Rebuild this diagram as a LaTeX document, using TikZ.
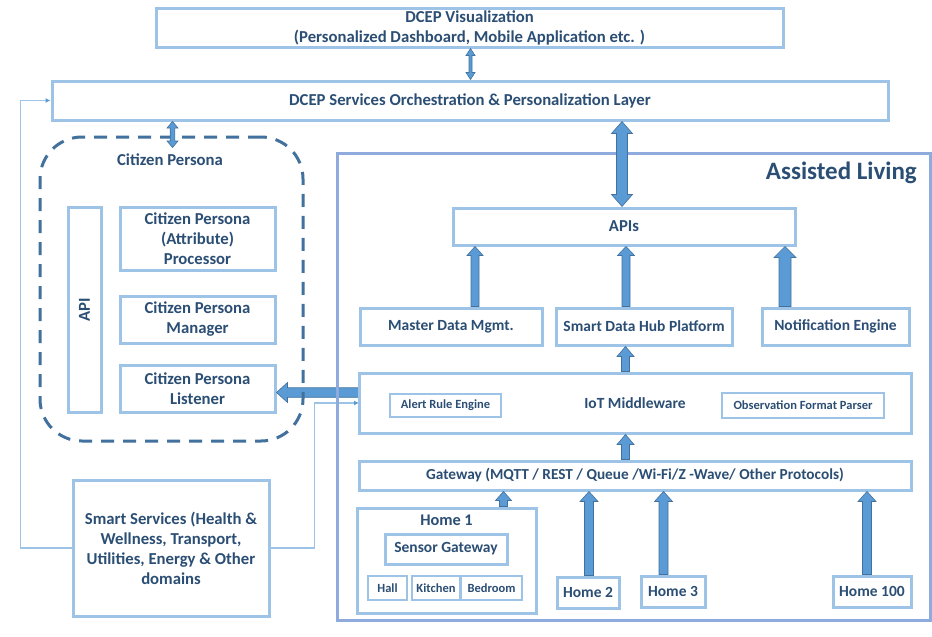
\documentclass[tikz,border=0pt]{standalone}
\usepackage{fontspec}
\setmainfont{Carlito}
\usetikzlibrary{calc,arrows.meta}

\definecolor{boxline}{HTML}{9DC3E6}
\definecolor{alline}{HTML}{8FAADC}
\definecolor{txt}{HTML}{2B4E74}
\definecolor{arrfill}{HTML}{5B9BD5}
\definecolor{arrline}{HTML}{41719C}
\definecolor{dashline}{HTML}{41719C}

\tikzset{
  box/.style={draw=boxline, line width=3pt, fill=white, text=txt,
    font=\bfseries\fontsize{15.5}{19.5}\selectfont, align=center, inner sep=0pt},
  bigbox/.style={box, font=\bfseries\fontsize{16.7}{20}\selectfont},
  smallbox/.style={box, line width=2.5pt, font=\bfseries\fontsize{12.5}{15}\selectfont},
  plain/.style={text=txt, font=\bfseries\fontsize{16.7}{20}\selectfont, align=center, inner sep=0pt},
  fatarrowstyle/.style={fill=arrfill, draw=arrline, line width=0.6pt, line join=miter},
  link/.style={draw=boxline, line width=1.4pt, -{Latex[length=5pt,width=5pt,color=arrfill]}},
  dashedgroup/.style={draw=dashline, line width=3pt, dash pattern=on 13pt off 9pt, rounded corners=42pt},
}

% block arrow: from, to, shaft half width, head half width, head length
\newcommand\fatarrow[5]{%
  \coordinate (fasrc) at (#1);
  \coordinate (faend) at (#2);
  \coordinate (fabase) at ($(faend)!#5!(fasrc)$);
  \filldraw[fatarrowstyle]
    ($(fasrc)!#3!90:(faend)$) -- ($(fabase)!#3!-90:(fasrc)$) --
    ($(fabase)!#4!-90:(fasrc)$) -- (faend) --
    ($(fabase)!#4!90:(fasrc)$) -- ($(fabase)!#3!90:(fasrc)$) --
    ($(fasrc)!#3!-90:(faend)$) -- cycle;
}
% double-headed block arrow: end, end, shaft half width, head half width, head length
\newcommand\fatdarrow[5]{%
  \coordinate (fasrc) at (#1);
  \coordinate (faend) at (#2);
  \coordinate (fabasea) at ($(fasrc)!#5!(faend)$);
  \coordinate (fabaseb) at ($(faend)!#5!(fasrc)$);
  \filldraw[fatarrowstyle]
    (fasrc) -- ($(fabasea)!#4!90:(faend)$) -- ($(fabasea)!#3!90:(faend)$) --
    ($(fabaseb)!#3!-90:(fasrc)$) -- ($(fabaseb)!#4!-90:(fasrc)$) -- (faend) --
    ($(fabaseb)!#4!90:(fasrc)$) -- ($(fabaseb)!#3!90:(fasrc)$) --
    ($(fabasea)!#3!-90:(faend)$) -- ($(fabasea)!#4!-90:(faend)$) -- cycle;
}

\begin{document}
\begin{tikzpicture}[x=1pt,y=-1pt]
\useasboundingbox[fill=white] (0,0) rectangle (932,637);

% top layers
\node[bigbox, minimum width=627pt, minimum height=39pt] (vis) at (469.5,27.5)
  {DCEP Visualization\\(Personalized Dashboard, Mobile Application etc. )};
\node[bigbox, minimum width=836pt, minimum height=39pt] (orch) at (470,100.5)
  {DCEP Services Orchestration \& Personalization Layer};

% smart services and its feeds
\coordinate (iot-in) at (359,403);
\node[bigbox, minimum width=196pt, minimum height=136pt] (ss) at (171,548)
  {Smart Services (Health \&\\Wellness, Transport,\\Utilities, Energy \& Other\\domains};
\draw[link] (ss.west) -- ++(-51,0) |- (orch.west);
\draw[link] (ss.east) -- ++(44,0) |- (iot-in);

% citizen persona
\node[box, minimum width=33pt, minimum height=205pt] (api) at (84.5,309.5) {};
\node[plain, rotate=90] (apitext) at (api.center) {API};
\node[bigbox, minimum width=155pt, minimum height=63pt] (proc) at (197.5,238.5)
  {Citizen Persona\\(Attribute)\\Processor};
\node[bigbox, minimum width=155pt, minimum height=47pt] (mgr) at (197.5,319.5)
  {Citizen Persona\\Manager};
\node[bigbox, minimum width=155pt, minimum height=47pt] (lst) at (197.5,388.5)
  {Citizen Persona\\Listener};

% assisted living
\coordinate (yl) at (0,392.5);
\fatarrow{iot-in |- yl}{lst.east |- yl}{4.75pt}{10pt}{11pt}
\node[dashedgroup, minimum width=263pt, minimum height=304pt] (cp) at (171.5,289) {};
\node[plain] (cplabel) at (170,160) {Citizen Persona};
\node[draw=alline, line width=3pt, minimum width=593pt, minimum height=467pt] (al) at (633.5,386.5) {};
\node[plain, anchor=east, font=\bfseries\fontsize{25}{28}\selectfont] (altitle) at (917,173) {Assisted Living};

\node[bigbox, minimum width=342pt, minimum height=37pt] (apis) at (624,226.5) {APIs};
\node[box, minimum width=182pt, minimum height=37pt] (mdm) at (451,326.5) {Master Data Mgmt.};
\node[box, minimum width=176pt, minimum height=37pt] (sdh) at (644,326.5) {Smart Data Hub Platform};
\node[box, minimum width=147pt, minimum height=37pt] (ne) at (835.5,326.5) {Notification Engine};
\node[box, minimum width=552pt, minimum height=60pt] (iot) at (635,403) {IoT Middleware};
\node[smallbox, minimum width=111pt, minimum height=23pt] (are) at (445.5,405.5) {Alert Rule Engine};
\node[smallbox, minimum width=162pt, minimum height=25pt] (ofp) at (803,405.5) {Observation Format Parser};
\node[box, minimum width=552pt, minimum height=29pt, font=\bfseries\fontsize{15.3}{18}\selectfont] (gw) at (635,475.5)
  {Gateway (MQTT / REST / Queue /Wi-Fi/Z -Wave/ Other Protocols)};

\node[box, minimum width=179pt, minimum height=105pt] (home1) at (446.5,560.5) {};
\node[plain, font=\bfseries\fontsize{16.3}{19}\selectfont] (home1label) at (446.5,520) {Home 1};
\node[box, minimum width=122pt, minimum height=30pt] (sg) at (446,549) {Sensor Gateway};
\node[smallbox, minimum width=39pt, minimum height=24pt] (hall) at (387.5,588) {Hall};
\node[smallbox, minimum width=48pt, minimum height=24pt] (kit) at (436,588) {Kitchen};
\node[smallbox, minimum width=61pt, minimum height=24pt] (bed) at (491.5,588) {Bedroom};
\node[box, minimum width=62pt, minimum height=31pt] (h2) at (588,592.5) {Home 2};
\node[box, minimum width=64pt, minimum height=31pt] (h3) at (673,591.5) {Home 3};
\node[box, minimum width=78pt, minimum height=31pt] (h100) at (872,591.5) {Home 100};

% block arrows
\coordinate (xa) at (470.5,0);
\coordinate (xb) at (172.5,0);
\coordinate (xc) at (622,0);
\coordinate (xm) at (475,0);
\coordinate (xs) at (626,0);
\coordinate (xn) at (785,0);
\coordinate (xi) at (625.5,0);
\coordinate (x1) at (503.5,0);
\coordinate (x2) at (589,0);
\coordinate (x3) at (663.5,0);
\coordinate (x4) at (867,0);

\fatdarrow{vis.south -| xa}{orch.north -| xa}{1.5pt}{4.5pt}{7pt}
\fatdarrow{orch.south -| xb}{$(cp.north -| xb)+(0,12)$}{2.3pt}{5.5pt}{6.5pt}
\fatdarrow{orch.south -| xc}{apis.north -| xc}{5.5pt}{10.5pt}{12pt}
\fatarrow{mdm.north -| xm}{apis.south -| xm}{4pt}{8pt}{9pt}
\fatarrow{sdh.north -| xs}{apis.south -| xs}{4pt}{8.5pt}{9pt}
\fatarrow{ne.north -| xn}{apis.south -| xn}{6pt}{11pt}{11pt}
\fatarrow{iot.north -| xi}{sdh.south -| xi}{4pt}{8.5pt}{10pt}
\fatarrow{gw.north -| xi}{iot.south -| xi}{4pt}{8.5pt}{10pt}
\fatarrow{home1.north -| x1}{gw.south -| x1}{4pt}{8pt}{9pt}
\fatarrow{h2.north -| x2}{gw.south -| x2}{4.5pt}{9pt}{10pt}
\fatarrow{h3.north -| x3}{gw.south -| x3}{4.5pt}{9pt}{10pt}
\fatarrow{h100.north -| x4}{gw.south -| x4}{4.5pt}{9pt}{10pt}

\end{tikzpicture}
\end{document}
